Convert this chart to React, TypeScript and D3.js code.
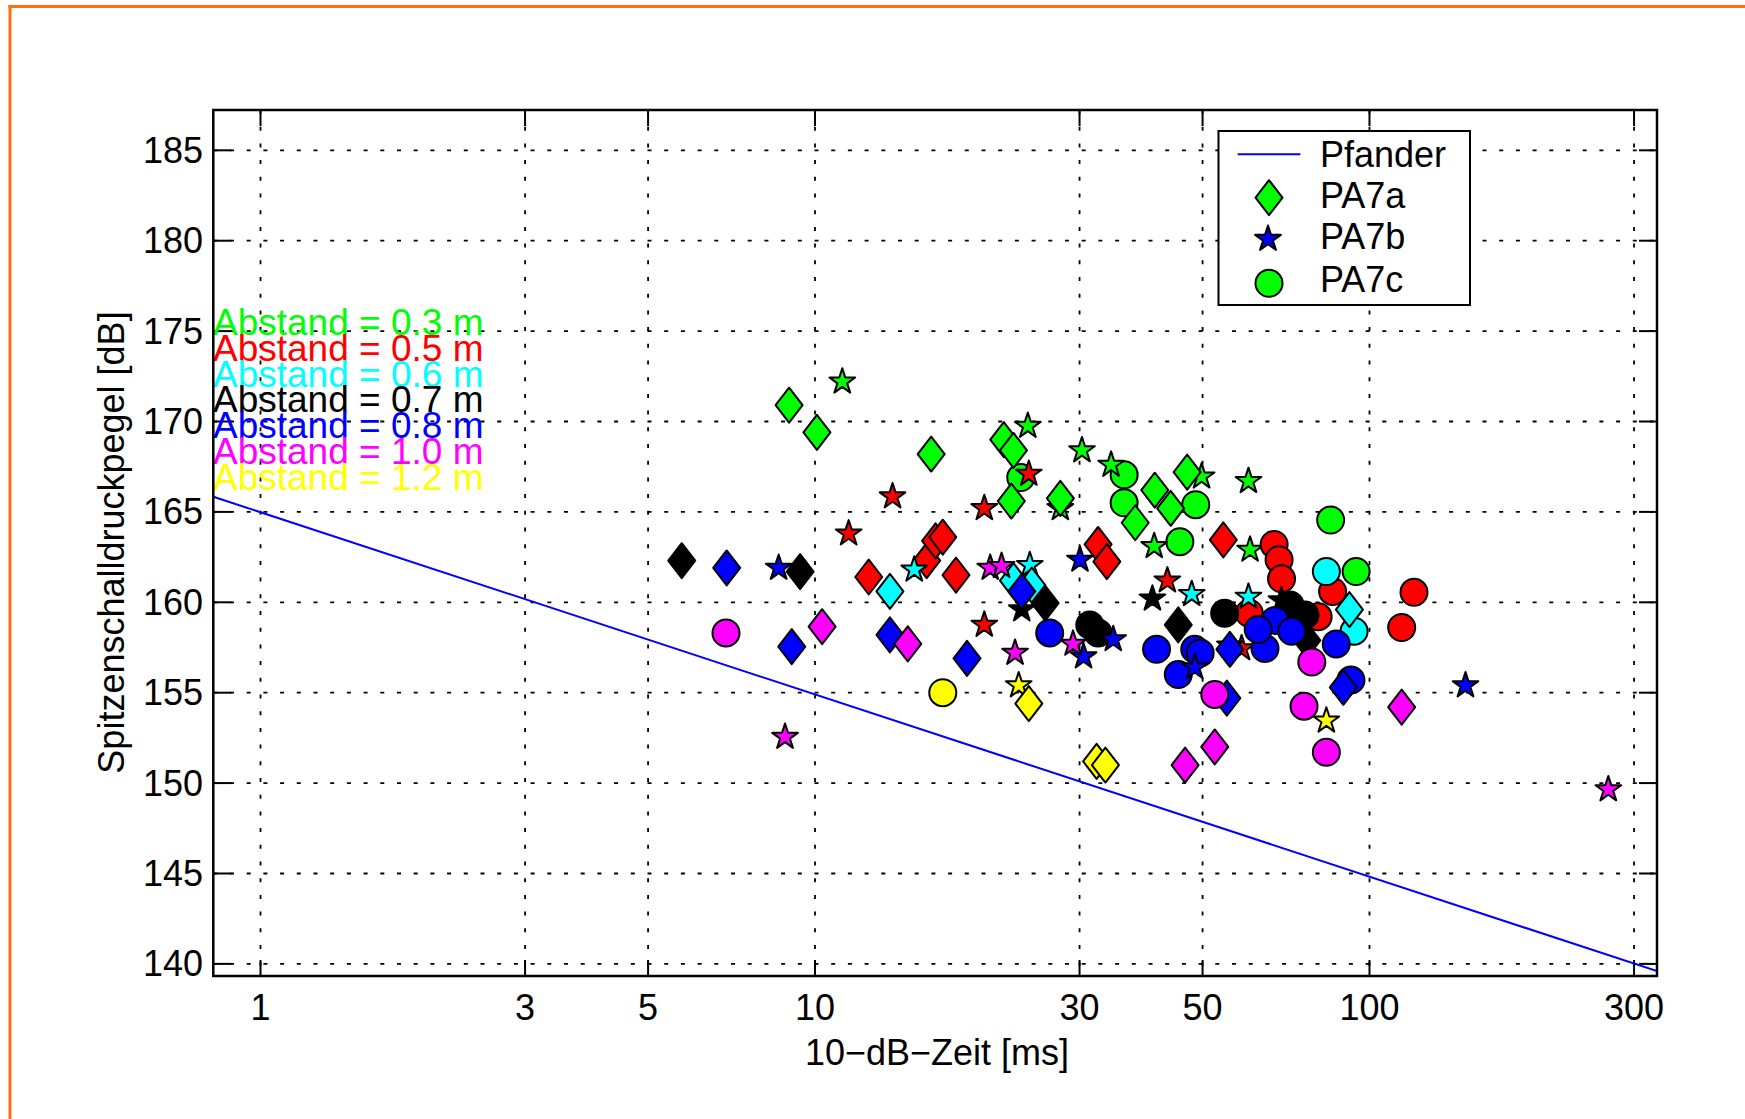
import React from 'react';
import * as d3 from 'd3';

// ---------- data ----------
const distanceLabels = [
  'Abstand = 0.3 m',
  'Abstand = 0.5 m',
  'Abstand = 0.6 m',
  'Abstand = 0.7 m',
  'Abstand = 0.8 m',
  'Abstand = 1.0 m',
  'Abstand = 1.2 m',
];
const distanceColors = ['#00ff00', '#ff0000', '#00ffff', '#000000', '#0000ff', '#ff00ff', '#ffff00'];

const xTicks = [1, 3, 5, 10, 30, 50, 100, 300];
const yTicks = [140, 145, 150, 155, 160, 165, 170, 175, 180, 185];

const seriesNames = ['Pfander', 'PA7a', 'PA7b', 'PA7c'];

// Pfander reference line (10-dB-Zeit [ms], level [dB])
const pfanderT = [0.82, 330];
const pfanderL = [165.85, 139.6];

// PA7a (diamonds)
const pa7aT = [
  8.98, 10.08, 16.2, 21.9, 22.8, 22.6, 27.7, 37.8, 41.0, 43.8, 46.9,
  12.5, 15.9, 16.5, 17.0, 17.96, 32.4, 33.6, 54.5,
  13.65, 22.8, 24.6, 92.0,
  5.75, 9.4, 26.0, 45.2, 77.1,
  6.93, 9.08, 13.65, 18.8, 23.6, 56.0, 55.3, 89.7,
  10.3, 14.7, 52.6, 46.5, 114.3,
  24.3, 32.2, 33.4,
];
const pa7aL = [
  170.9, 169.4, 168.2, 169.0, 168.4, 165.6, 165.75, 164.4, 166.2, 165.2, 167.2,
  161.4, 162.3, 163.4, 163.6, 161.5, 163.2, 162.25, 163.45,
  160.6, 161.2, 160.95, 159.6,
  162.3, 161.7, 159.95, 158.75, 157.9,
  161.9, 157.55, 158.2, 156.9, 160.6, 157.4, 154.7, 155.3,
  158.65, 157.7, 152.0, 151.0, 154.2,
  154.4, 151.2, 151.0,
];
const pa7aD = [
  0, 0, 0, 0, 0, 0, 0, 0, 0, 0, 0,
  1, 1, 1, 1, 1, 1, 1, 1,
  2, 2, 2, 2,
  3, 3, 3, 3, 3,
  4, 4, 4, 4, 4, 4, 4, 4,
  5, 5, 5, 5, 5,
  6, 6, 6,
];

// PA7b (stars)
const pa7bT = [
  11.2, 24.2, 30.3, 34.2, 49.8, 60.5, 40.9, 60.9, 27.7,
  13.8, 11.5, 20.2, 24.3, 20.2, 43.2, 58.8,
  15.1, 24.4, 47.8, 60.5,
  40.6, 23.6, 69.4,
  8.6, 30.05, 34.5, 30.5, 48.4, 56.0, 149,
  8.83, 22.95, 20.7, 21.7, 29.2, 269.6,
  23.3, 83.6,
];
const pa7bL = [
  172.2, 169.75, 168.4, 167.6, 166.95, 166.7, 163.1, 162.9, 165.2,
  165.85, 163.8, 165.2, 167.1, 158.75, 161.2, 157.45,
  161.8, 162.05, 160.45, 160.3,
  160.2, 159.6, 160.1,
  161.9, 162.35, 157.95, 157.0, 156.4, 157.6, 155.4,
  152.55, 157.2, 161.9, 162.0, 157.7, 149.65,
  155.4, 153.45,
];
const pa7bD = [
  0, 0, 0, 0, 0, 0, 0, 0, 0,
  1, 1, 1, 1, 1, 1, 1,
  2, 2, 2, 2,
  3, 3, 3,
  4, 4, 4, 4, 4, 4, 4,
  5, 5, 5, 5, 5, 5,
  6, 6,
];

// PA7c (circles)
const pa7cT = [
  36.1, 36.1, 48.6, 45.5, 85.1, 94.6, 23.5,
  67.3, 68.7, 69.4, 85.8, 60.7, 80.8, 120.3, 114.3,
  83.6, 93.8,
  31.3, 32.4, 54.8, 71.9, 76.5,
  26.5, 41.3, 48.4, 49.5, 45.2, 64.8, 67.5, 72.4, 63.0, 87.1, 92.6,
  6.91, 78.7, 76.2, 83.6, 52.6,
  17.0,
];
const pa7cL = [
  167.05, 165.5, 165.4, 163.35, 164.55, 161.7, 166.9,
  163.2, 162.35, 161.3, 160.6, 159.4, 159.2, 160.55, 158.6,
  161.7, 158.4,
  158.75, 158.3, 159.4, 159.85, 159.3,
  158.3, 157.4, 157.4, 157.2, 156.0, 157.45, 159.0, 158.4, 158.5, 157.7, 155.7,
  158.3, 156.7, 154.25, 151.7, 154.9,
  155.0,
];
const pa7cD = [
  0, 0, 0, 0, 0, 0, 0,
  1, 1, 1, 1, 1, 1, 1, 1,
  2, 2,
  3, 3, 3, 3, 3,
  4, 4, 4, 4, 4, 4, 4, 4, 4, 4, 4,
  5, 5, 5, 5, 5,
  6,
];

// ---------- layout ----------
const W = 1745;
const H = 1119;
const plot = { left: 213.3, right: 1657, top: 110, bottom: 976 };
const xDomain = [0.822, 330];
const yDomain = [139.33, 187.23];
const FONT = "'Liberation Sans', Arial, Helvetica, sans-serif";
const FS = 36;

const x = d3.scaleLog().domain(xDomain).range([plot.left, plot.right]);
const y = d3.scaleLinear().domain(yDomain).range([plot.bottom, plot.top]);

const diamondPath = (cx: number, cy: number, hw = 13.5, hh = 17.5) =>
  `M${cx},${cy - hh}L${cx + hw},${cy}L${cx},${cy + hh}L${cx - hw},${cy}Z`;

const starPath = (cx: number, cy: number, R = 13.5) => {
  const r = R * 0.382;
  const pts: string[] = [];
  for (let i = 0; i < 10; i++) {
    const a = -Math.PI / 2 + (i * Math.PI) / 5;
    const rad = i % 2 === 0 ? R : r;
    pts.push(`${cx + rad * Math.cos(a)},${cy + rad * Math.sin(a)}`);
  }
  return `M${pts.join('L')}Z`;
};

type Pt = { t: number; L: number; d: number };
const zip = (T: number[], L: number[], D: number[]): Pt[] => T.map((t, i) => ({ t, L: L[i], d: D[i] }));
const seriesA = zip(pa7aT, pa7aL, pa7aD);
const seriesB = zip(pa7bT, pa7bL, pa7bD);
const seriesC = zip(pa7cT, pa7cL, pa7cD);

const markerStroke = { stroke: '#000', strokeWidth: 2, strokeLinejoin: 'round' as const };

function Marker({ kind, cx, cy, fill }: { kind: string; cx: number; cy: number; fill: string }) {
  if (kind === 'a') return <path d={diamondPath(cx, cy)} fill={fill} {...markerStroke} />;
  if (kind === 'b') return <path d={starPath(cx, cy)} fill={fill} {...markerStroke} />;
  return <circle cx={cx} cy={cy} r={13.5} fill={fill} {...markerStroke} />;
}

export default function App() {
  const line = d3
    .line<number>()
    .x((_, i) => x(pfanderT[i]))
    .y((_, i) => y(pfanderL[i]));
  const pfPath = line(pfanderT) || '';

  const marks: JSX.Element[] = [];
  distanceColors.forEach((col, di) => {
    const groups: [string, Pt[]][] = [
      ['c', seriesC],
      ['b', seriesB],
      ['a', seriesA],
    ];
    groups.forEach(([kind, pts]) => {
      pts
        .filter((p) => p.d === di)
        .forEach((p, k) => {
          marks.push(<Marker key={`${di}-${kind}-${k}`} kind={kind} cx={x(p.t)} cy={y(p.L)} fill={col} />);
        });
    });
  });

  const gridStyle = { stroke: '#000', strokeWidth: 1.8, strokeDasharray: '4 12.7' };
  const tickLen = 16;

  const legend = { x: 1218.5, y: 131, w: 251.5, h: 174 };
  const legendRows = [166.7, 208.3, 249, 291.7];

  return (
    <svg
      width={W}
      height={H}
      style={{ position: 'absolute', left: 0, top: 0, background: '#fff' }}
      fontFamily={FONT}
    >
      <rect x={0} y={0} width={W} height={H} fill="#fff" />
      {/* orange frame */}
      <line x1={8.5} y1={6.5} x2={W} y2={6.5} stroke="#ff6f0f" strokeWidth={3} />
      <line x1={10} y1={5} x2={10} y2={H} stroke="#ff6f0f" strokeWidth={3} />

      <defs>
        <clipPath id="plotclip">
          <rect x={plot.left} y={plot.top} width={plot.right - plot.left} height={plot.bottom - plot.top} />
        </clipPath>
      </defs>

      {/* grid */}
      {xTicks.map((t) => (
        <line key={`gx${t}`} x1={x(t)} x2={x(t)} y1={plot.top} y2={plot.bottom} {...gridStyle} />
      ))}
      {yTicks.map((v) => (
        <line key={`gy${v}`} x1={plot.left} x2={plot.right} y1={y(v)} y2={y(v)} {...gridStyle} />
      ))}

      {/* ticks */}
      {xTicks.map((t) => (
        <g key={`tx${t}`}>
          <line x1={x(t)} x2={x(t)} y1={plot.bottom} y2={plot.bottom - tickLen} stroke="#000" strokeWidth={2} />
          <line x1={x(t)} x2={x(t)} y1={plot.top} y2={plot.top + tickLen} stroke="#000" strokeWidth={2} />
          <text x={x(t)} y={1020} fontSize={FS} textAnchor="middle" fill="#000">
            {t}
          </text>
        </g>
      ))}
      {yTicks.map((v) => (
        <g key={`ty${v}`}>
          <line x1={plot.left} x2={plot.left + tickLen + 2} y1={y(v)} y2={y(v)} stroke="#000" strokeWidth={2} />
          <line x1={plot.right} x2={plot.right - tickLen - 2} y1={y(v)} y2={y(v)} stroke="#000" strokeWidth={2} />
          <text x={203} y={y(v) + 12.5} fontSize={FS} textAnchor="end" fill="#000">
            {v}
          </text>
        </g>
      ))}

      {/* distance annotations */}
      {distanceLabels.map((lab, i) => (
        <text key={lab} x={213} y={335 + i * 25.8} fontSize={37} fill={distanceColors[i]}>
          {lab}
        </text>
      ))}

      {/* Pfander line */}
      <path d={pfPath} fill="none" stroke="#0000ff" strokeWidth={2} clipPath="url(#plotclip)" />

      {/* markers */}
      <g clipPath="url(#plotclip)">{marks}</g>

      {/* axes box */}
      <rect
        x={plot.left}
        y={plot.top}
        width={plot.right - plot.left}
        height={plot.bottom - plot.top}
        fill="none"
        stroke="#000"
        strokeWidth={2.5}
      />

      {/* axis labels */}
      <text x={937} y={1065} fontSize={FS} textAnchor="middle" fill="#000">
        10−dB−Zeit [ms]
      </text>
      <text
        transform={`translate(124, 542.5) rotate(-90)`}
        fontSize={FS}
        textAnchor="middle"
        fill="#000"
      >
        Spitzenschalldruckpegel [dB]
      </text>

      {/* legend */}
      <rect x={legend.x} y={legend.y} width={legend.w} height={legend.h} fill="#fff" stroke="#000" strokeWidth={2} />
      <line x1={1237.7} x2={1300.4} y1={154.3} y2={154.3} stroke="#0000ff" strokeWidth={2} />
      <path d={diamondPath(1269, 197.7)} fill="#00ff00" {...markerStroke} />
      <path d={starPath(1268, 239)} fill="#0000ff" {...markerStroke} />
      <circle cx={1269} cy={283.3} r={13.5} fill="#00ff00" {...markerStroke} />
      {seriesNames.map((n, i) => (
        <text key={n} x={1320} y={legendRows[i]} fontSize={FS} fill="#000">
          {n}
        </text>
      ))}
    </svg>
  );
}
